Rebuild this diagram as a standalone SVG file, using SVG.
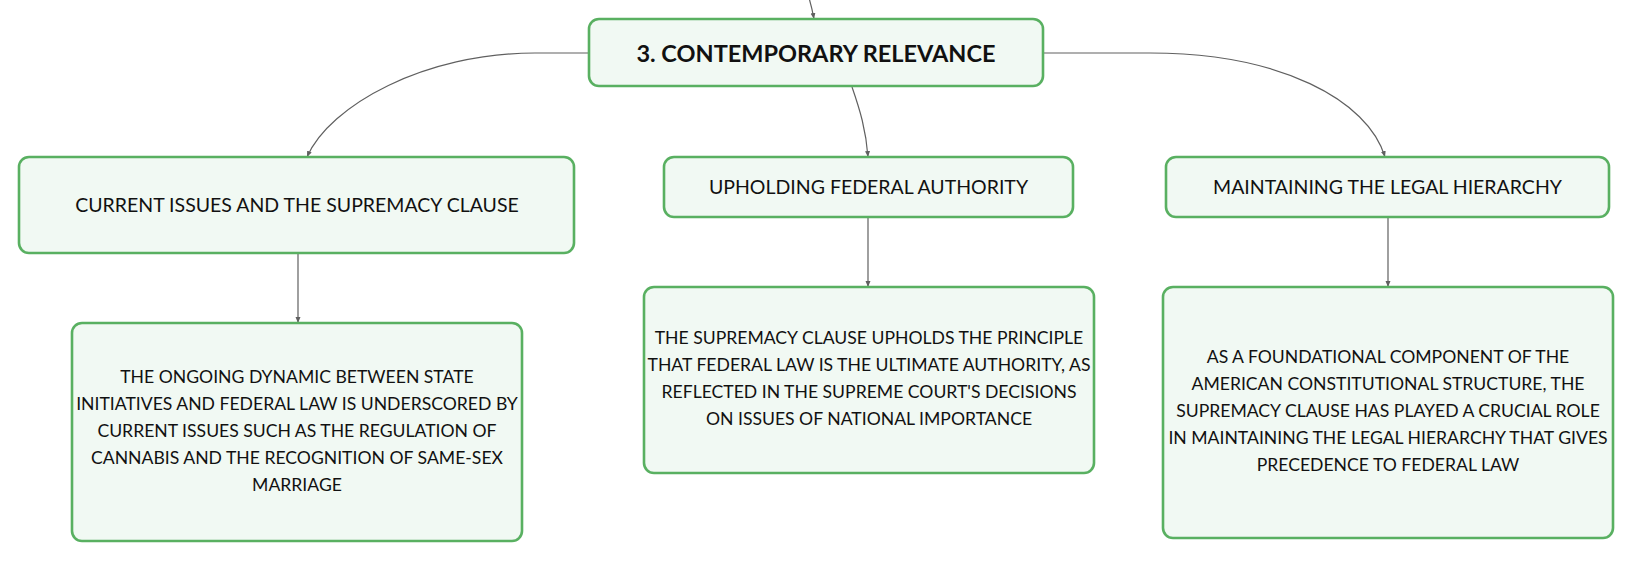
<svg xmlns="http://www.w3.org/2000/svg" width="1632" height="562" viewBox="0 0 1632 562">
<defs>
<style>
.box{fill:#f1f9f3;stroke:#59b061;stroke-width:2.6}
.t{font-family:Lato,"Liberation Sans",sans-serif;fill:#111;text-anchor:middle}
.main{font-size:23.5px;font-weight:bold}
.sub{font-size:19.5px}
.body{font-size:17.6px}
.c{fill:none;stroke:#606060;stroke-width:1.2;marker-end:url(#arr)}
</style>
<marker id="arr" markerUnits="userSpaceOnUse" markerWidth="7" markerHeight="6" refX="6" refY="3" orient="auto">
<path d="M0,0.5 L6,3 L0,5.5 z" fill="#606060"/>
</marker>
</defs>
<rect width="1632" height="562" fill="#ffffff"/>
<g id="connectors">
<path class="c" d="M809,-2 Q812,8 814,19"/>
<path class="c" d="M589,53 L535,53 C425,53 330,105 307,157"/>
<path class="c" d="M852,87 C860,110 866,130 868,157"/>
<path class="c" d="M1043,53 L1150,53 C1280,53 1368,100 1385,157"/>
<path class="c" d="M298,253 L298,323"/>
<path class="c" d="M868,217 L868,287"/>
<path class="c" d="M1388,217 L1388,287"/>
</g>
<g id="node-main">
<rect class="box" x="589" y="19" width="454" height="67" rx="10"/>
<text class="t main" x="816" y="61.5">3. CONTEMPORARY RELEVANCE</text>
</g>
<g id="node-current">
<rect class="box" x="19" y="157" width="555" height="96" rx="10"/>
<text class="t sub" x="297" y="212">CURRENT ISSUES AND THE SUPREMACY CLAUSE</text>
</g>
<g id="node-upholding">
<rect class="box" x="664" y="157" width="409" height="60" rx="10"/>
<text class="t sub" x="868.5" y="194">UPHOLDING FEDERAL AUTHORITY</text>
</g>
<g id="node-maintaining">
<rect class="box" x="1166" y="157" width="443" height="60" rx="10"/>
<text class="t sub" x="1387.5" y="194">MAINTAINING THE LEGAL HIERARCHY</text>
</g>
<g id="node-current-detail">
<rect class="box" x="72" y="323" width="450" height="218" rx="10"/>
<text class="t body" x="297" y="383">THE ONGOING DYNAMIC BETWEEN STATE</text>
<text class="t body" x="297" y="410">INITIATIVES AND FEDERAL LAW IS UNDERSCORED BY</text>
<text class="t body" x="297" y="437">CURRENT ISSUES SUCH AS THE REGULATION OF</text>
<text class="t body" x="297" y="464">CANNABIS AND THE RECOGNITION OF SAME-SEX</text>
<text class="t body" x="297" y="491">MARRIAGE</text>
</g>
<g id="node-upholding-detail">
<rect class="box" x="644" y="287" width="450" height="186" rx="10"/>
<text class="t body" x="869" y="344">THE SUPREMACY CLAUSE UPHOLDS THE PRINCIPLE</text>
<text class="t body" x="869" y="371">THAT FEDERAL LAW IS THE ULTIMATE AUTHORITY, AS</text>
<text class="t body" x="869" y="398">REFLECTED IN THE SUPREME COURT'S DECISIONS</text>
<text class="t body" x="869" y="425">ON ISSUES OF NATIONAL IMPORTANCE</text>
</g>
<g id="node-maintaining-detail">
<rect class="box" x="1163" y="287" width="450" height="251" rx="10"/>
<text class="t body" x="1388" y="363">AS A FOUNDATIONAL COMPONENT OF THE</text>
<text class="t body" x="1388" y="390">AMERICAN CONSTITUTIONAL STRUCTURE, THE</text>
<text class="t body" x="1388" y="417">SUPREMACY CLAUSE HAS PLAYED A CRUCIAL ROLE</text>
<text class="t body" x="1388" y="444">IN MAINTAINING THE LEGAL HIERARCHY THAT GIVES</text>
<text class="t body" x="1388" y="471">PRECEDENCE TO FEDERAL LAW</text>
</g>
</svg>
